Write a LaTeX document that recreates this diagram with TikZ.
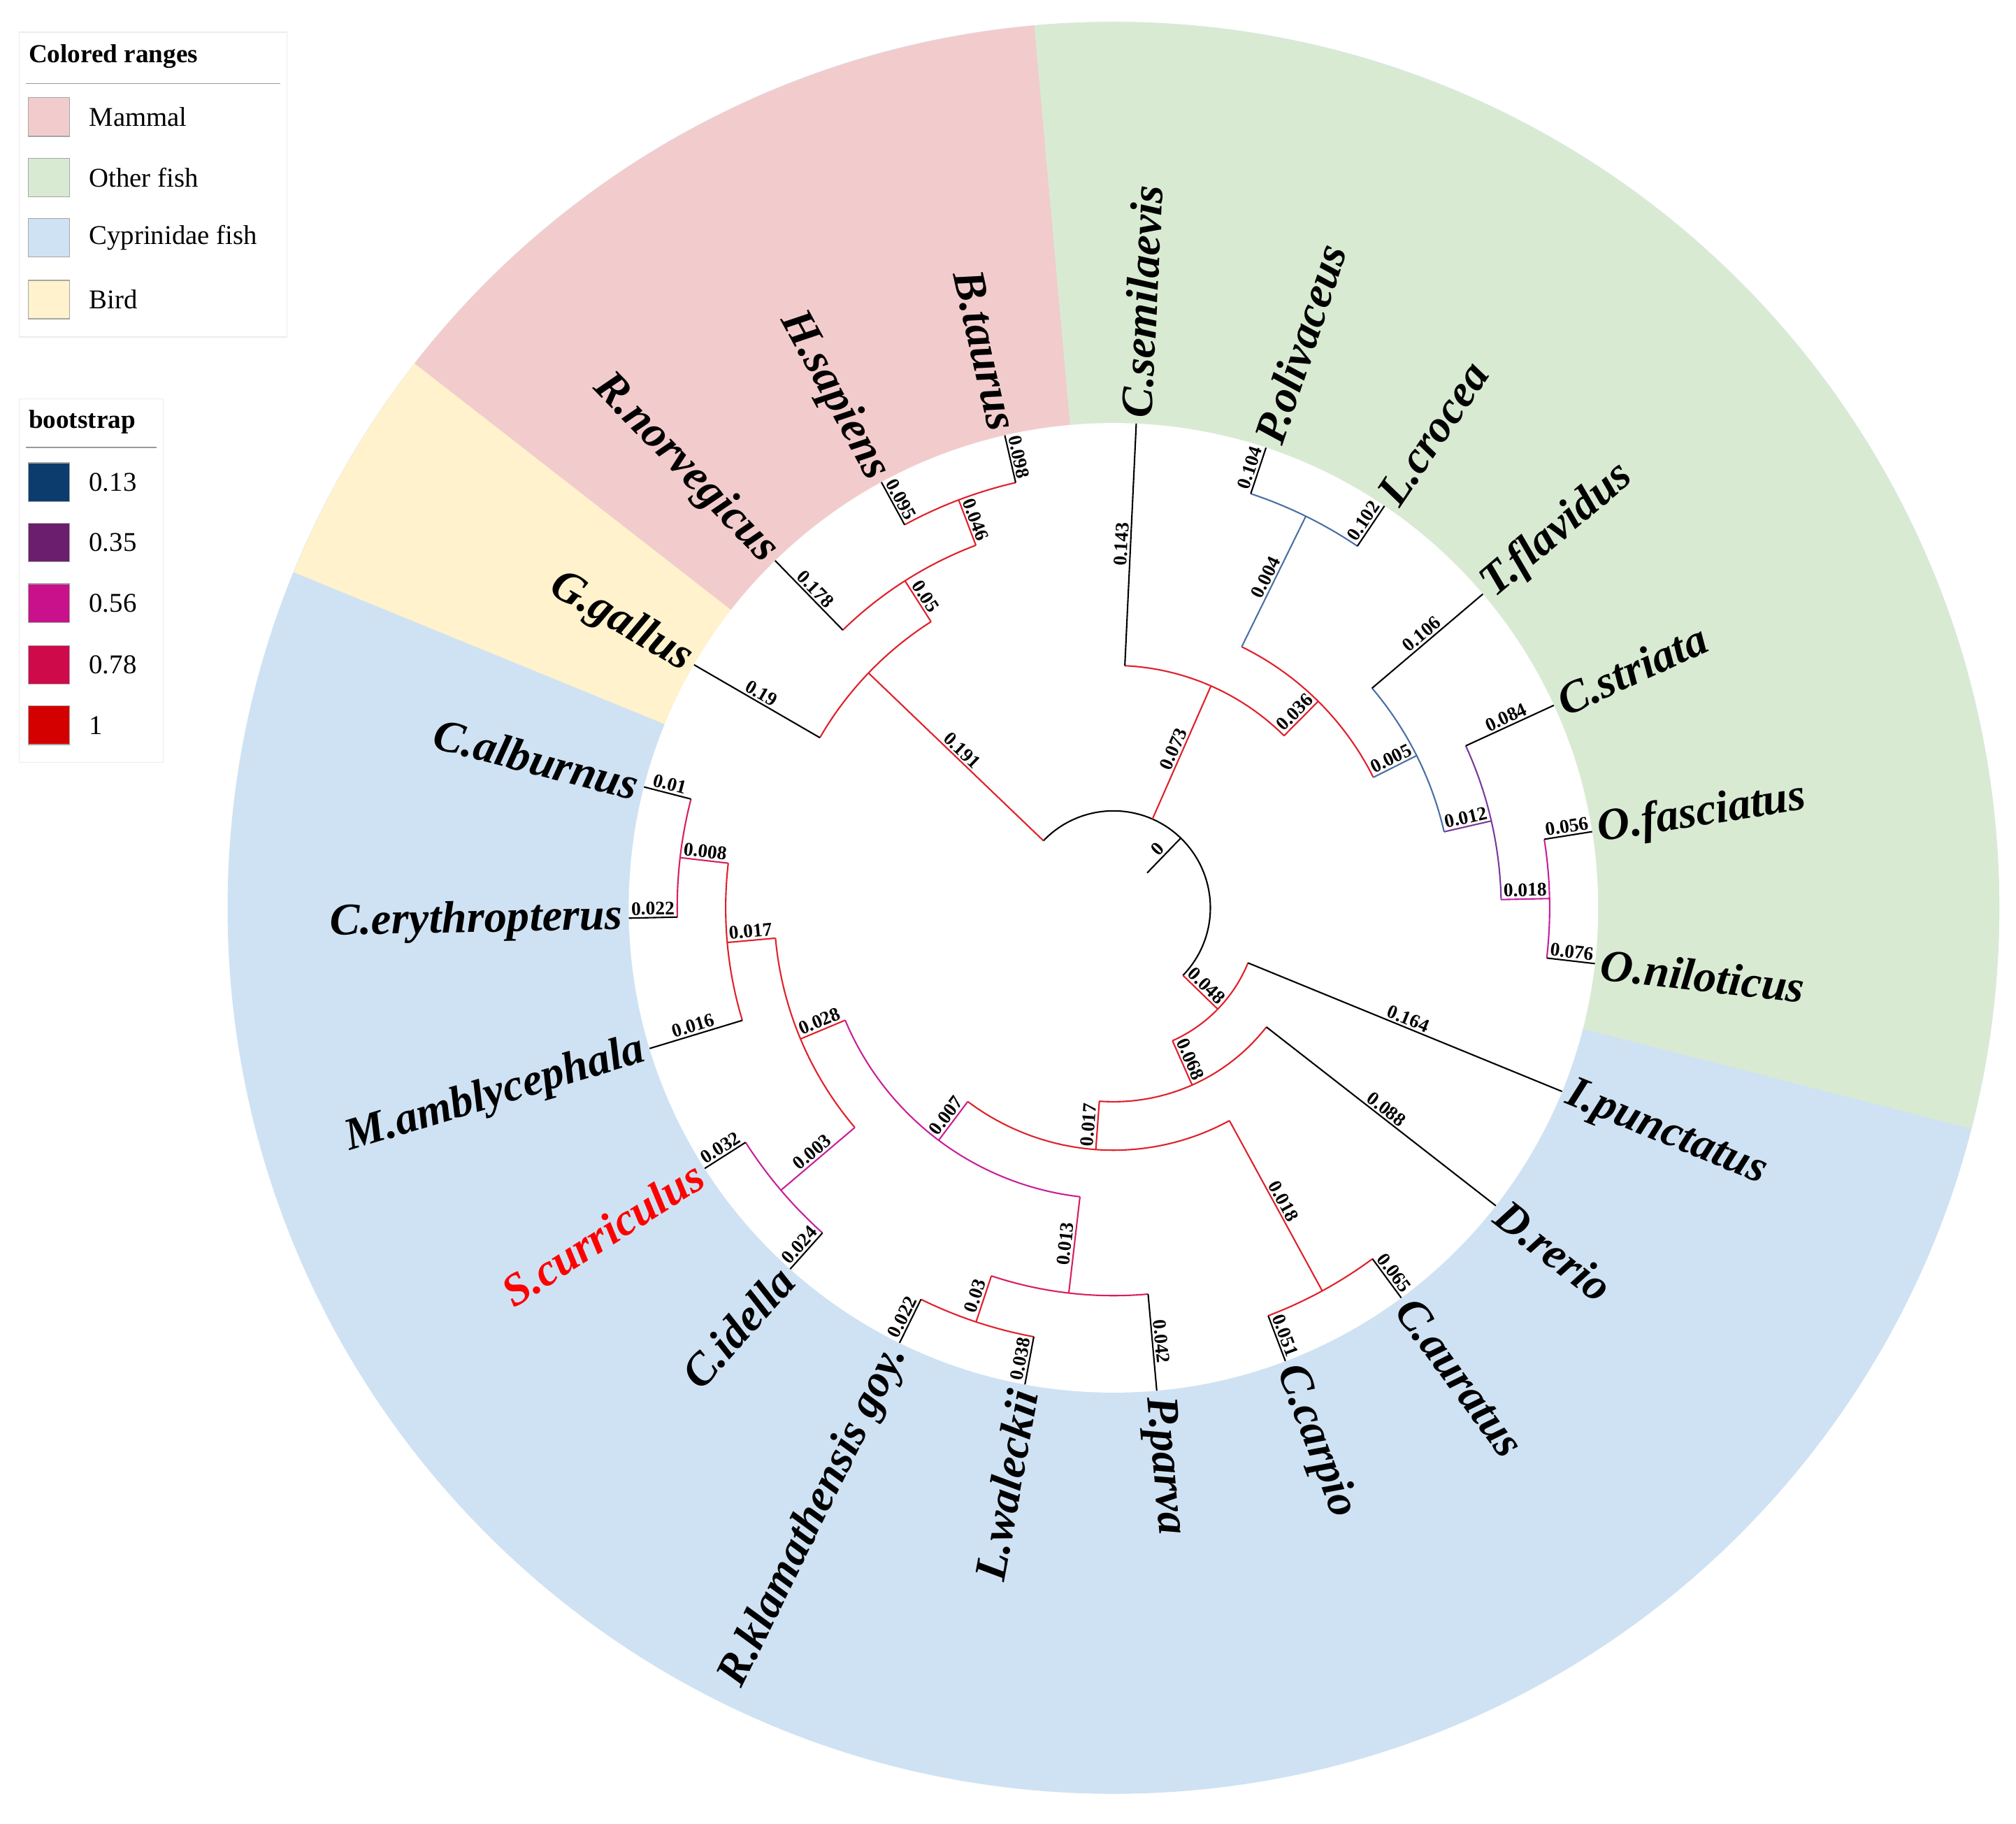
\documentclass[tikz,border=0pt]{standalone}
\usepackage{fontspec}
\setmainfont{Liberation Serif}
\definecolor{secpk}{HTML}{F2CCCC}
\definecolor{secgn}{HTML}{D9EAD3}
\definecolor{secbl}{HTML}{CFE2F3}
\definecolor{secyl}{HTML}{FFF2CC}
\definecolor{bs13}{HTML}{0C3C6E}
\definecolor{bs35}{HTML}{6B1E6E}
\definecolor{bs56}{HTML}{C8118A}
\definecolor{bs78}{HTML}{CF0A4A}
\definecolor{bs1}{HTML}{D40000}
\definecolor{bblue}{HTML}{4A6FA5}
\definecolor{bpurp}{HTML}{7A3A9A}
\definecolor{bmag}{HTML}{C8209A}
\definecolor{bcrim}{HTML}{D8205A}
\definecolor{bred}{HTML}{E0202A}
\newcommand\tedge[5]{\draw[brl,#1] ({#2}:{#3*37.7}) -- ({#2}:{#4*37.7}) node[bl,midway]{#5};}
\newcommand\tarc[4]{\draw[brl,#1] ({#2}:{#4*37.7}) arc[start angle={#2}, end angle={#3}, radius={#4*37.7}];}
\newcommand\leafR[4][black]{\node[leaf,text=#1,anchor=west,rotate=#3] (#2) at ({#3}:378) {#4};}
\newcommand\leafL[4][black]{\node[leaf,text=#1,anchor=east,rotate={#3+180}] (#2) at ({#3}:378) {#4};}
\newcommand\wedgefill[3]{\path[fill=#1] (0,0) -- ({#2}:689) arc[start angle={#2},end angle={#3},radius=689] -- cycle;}
\begin{document}
\begin{tikzpicture}[x=0.2mm,y=0.2mm,
  brl/.style={line width=0.65pt},
  bl/.style={font=\bfseries\fontsize{8.5}{9}\selectfont, sloped, above, inner sep=0.8pt, text=black},
  leaf/.style={font=\bfseries\itshape\fontsize{20}{21}\selectfont, inner sep=2pt},
  lgt/.style={font=\fontsize{12}{13}\selectfont, anchor=west, inner sep=0pt},
  lgh/.style={font=\bfseries\fontsize{11.5}{13}\selectfont, anchor=west, inner sep=0pt},
  lgbox/.style={draw=gray!15, fill=white, line width=0.4pt},
  sw/.style={draw=gray!70, line width=0.4pt}]
\useasboundingbox (-866,-712) rectangle (702,706);
\path[fill=white] (-866,-712) rectangle (702,706);
% colored ranges
\path[fill=secbl] (0,0) circle[radius=689];
\wedgefill{secgn}{-14.44}{95.13}
\wedgefill{secpk}{95.13}{142.09}
\wedgefill{secyl}{142.09}{157.74}
\path[fill=white] (0,0) circle[radius=377];
% arcs
\tarc{black}{136.21}{-44.16}{2}
\tarc{bred}{-210.09}{-237.48}{7}
\tarc{bred}{-225.74}{-249.22}{8}
\tarc{bred}{-241.40}{-257.05}{9}
\tarc{bred}{87.30}{45.24}{5}
\tarc{bred}{63.83}{26.65}{6}
\tarc{bblue}{71.65}{56.00}{9}
\tarc{bblue}{40.34}{12.95}{7}
\tarc{bpurp}{24.69}{1.22}{8}
\tarc{bmag}{9.04}{-6.61}{9}
\tarc{bred}{-22.26}{-66.05}{3}
\tarc{bred}{-37.92}{-94.17}{4}
\tarc{bred}{-61.40}{-126.94}{5}
\tarc{bred}{-53.57}{-69.22}{9}
\tarc{bmag}{-96.61}{-157.27}{6}
\tarc{bcrim}{-108.35}{-84.87}{8}
\tarc{bred}{-100.52}{-116.18}{9}
\tarc{bred}{-174.87}{-139.66}{7}
\tarc{bred}{-186.61}{-163.13}{8}
\tarc{bcrim}{-178.78}{-194.44}{9}
\tarc{bmag}{-147.48}{-131.83}{9}
% edges
\tedge{black}{46.0}{1}{2}{0}
\tedge{bred}{136.21}{2}{7}{0.191}
\tedge{black}{-210.09}{7}{10}{0.19}
\tedge{bred}{-237.48}{7}{8}{0.05}
\tedge{black}{-225.74}{8}{10}{0.178}
\tedge{bred}{-249.22}{8}{9}{0.046}
\tedge{black}{-241.40}{9}{10}{0.095}
\tedge{black}{-257.05}{9}{10}{0.098}
\tedge{bred}{66.27}{2}{5}{0.073}
\tedge{black}{87.30}{5}{10}{0.143}
\tedge{bred}{45.24}{5}{6}{0.036}
\tedge{bblue}{63.83}{6}{9}{0.004}
\tedge{black}{71.65}{9}{10}{0.104}
\tedge{black}{56.00}{9}{10}{0.102}
\tedge{bblue}{26.65}{6}{7}{0.005}
\tedge{black}{40.34}{7}{10}{0.106}
\tedge{bpurp}{12.95}{7}{8}{0.012}
\tedge{black}{24.69}{8}{10}{0.084}
\tedge{bmag}{1.22}{8}{9}{0.018}
\tedge{black}{9.04}{9}{10}{0.056}
\tedge{black}{-6.61}{9}{10}{0.076}
\tedge{bred}{-44.16}{2}{3}{0.048}
\tedge{black}{-22.26}{3}{10}{0.164}
\tedge{bred}{-66.05}{3}{4}{0.068}
\tedge{black}{-37.92}{4}{10}{0.088}
\tedge{bred}{-94.17}{4}{5}{0.017}
\tedge{bred}{-61.40}{5}{9}{0.018}
\tedge{black}{-53.57}{9}{10}{0.065}
\tedge{black}{-69.22}{9}{10}{0.051}
\tedge{bmag}{-126.94}{5}{6}{0.007}
\tedge{bcrim}{-96.61}{6}{8}{0.013}
\tedge{black}{-84.87}{8}{10}{0.042}
\tedge{bred}{-108.35}{8}{9}{0.03}
\tedge{black}{-116.18}{9}{10}{0.022}
\tedge{black}{-100.52}{9}{10}{0.038}
\tedge{bred}{-157.27}{6}{7}{0.028}
\tedge{bred}{-174.87}{7}{8}{0.017}
\tedge{bcrim}{-186.61}{8}{9}{0.008}
\tedge{black}{-178.78}{9}{10}{0.022}
\tedge{black}{-194.44}{9}{10}{0.01}
\tedge{black}{-163.13}{8}{10}{0.016}
\tedge{bmag}{-139.66}{7}{9}{0.003}
\tedge{black}{-147.48}{9}{10}{0.032}
\tedge{black}{-131.83}{9}{10}{0.024}
% leaf labels
\leafR{csem}{87.30}{C.semilaevis}
\leafR{poli}{71.65}{P.olivaceus}
\leafR{lcro}{56.00}{L.crocea}
\leafR{tfla}{40.34}{T.flavidus}
\leafR{cstr}{24.69}{C.striata}
\leafR{ofas}{9.04}{O.fasciatus}
\leafR{onil}{-6.61}{O.niloticus}
\leafR{ipun}{-22.26}{I.punctatus}
\leafR{drer}{-37.92}{D.rerio}
\leafR{caur}{-53.57}{C.auratus}
\leafR{ccar}{-69.22}{C.carpio}
\leafR{ppar}{-84.87}{P.parva}
\leafL{lwal}{-100.52}{L.waleckii}
\leafL{rkla}{-116.18}{R.klamathensis goy.}
\leafL{cide}{-131.83}{C.idella}
\leafL[red]{scur}{-147.48}{S.curriculus}
\leafL{mamb}{-163.13}{M.amblycephala}
\leafL{cery}{-178.78}{C.erythropterus}
\leafL{calb}{-194.44}{C.alburnus}
\leafL{ggal}{-210.09}{G.gallus}
\leafL{rnor}{-225.74}{R.norvegicus}
\leafL{hsap}{-241.40}{H.sapiens}
\leafL{btau}{-257.05}{B.taurus}
% legends
\begin{scope}[shift={(-866,706)}]
\draw[lgbox] (15,-25) rectangle (223,-262);
\node[lgh] (lg1) at (22,-44) {Colored ranges};
\draw[gray!80, line width=0.5pt] (20,-65) -- (218,-65);
\draw[sw,fill=secpk] (22,-76) rectangle (54,-106);
\node[lgt] (lgm) at (69,-91) {Mammal};
\draw[sw,fill=secgn] (22,-123) rectangle (54,-153);
\node[lgt] (lgo) at (69,-138) {Other fish};
\draw[sw,fill=secbl] (22,-170) rectangle (54,-200);
\node[lgt] (lgc) at (69,-185) {Cyprinidae fish};
\draw[sw,fill=secyl] (22,-218) rectangle (54,-248);
\node[lgt] (lgb) at (69,-233) {Bird};
\draw[lgbox] (15,-310) rectangle (127,-593);
\node[lgh] (lg2) at (22,-328) {bootstrap};
\draw[gray!80, line width=0.5pt] (20,-348) -- (122,-348);
\draw[sw,fill=bs13] (22,-360) rectangle (54,-390);
\node[lgt] (b1) at (69,-375) {0.13};
\draw[sw,fill=bs35] (22,-407) rectangle (54,-437);
\node[lgt] (b2) at (69,-422) {0.35};
\draw[sw,fill=bs56] (22,-454) rectangle (54,-484);
\node[lgt] (b3) at (69,-469) {0.56};
\draw[sw,fill=bs78] (22,-502) rectangle (54,-532);
\node[lgt] (b4) at (69,-517) {0.78};
\draw[sw,fill=bs1] (22,-549) rectangle (54,-579);
\node[lgt] (b5) at (69,-564) {1};
\end{scope}
\end{tikzpicture}
\end{document}
